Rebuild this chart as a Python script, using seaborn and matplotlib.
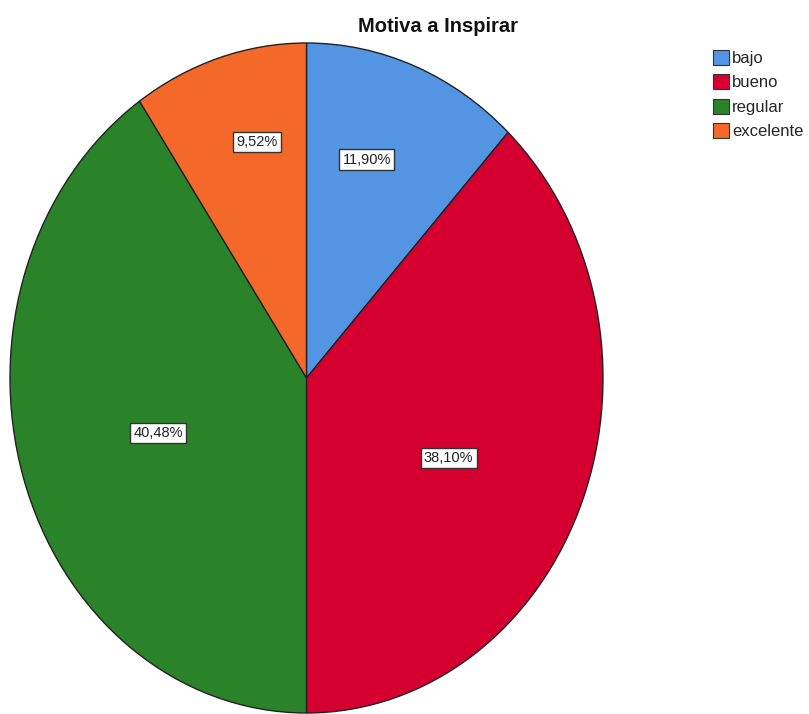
import matplotlib
matplotlib.use("Agg")
import matplotlib.pyplot as plt
import seaborn as sns
import numpy as np

categories = ["bajo", "bueno", "regular", "excelente"]
percentages = [11.90, 38.10, 40.48, 9.52]
colors = ["#5394E3", "#D5002F", "#2A8229", "#F4692A"]
title = "Motiva a Inspirar"

sns.set_theme(style="white")
plt.rcParams["font.family"] = ["Liberation Sans", "DejaVu Sans"]

fig = plt.figure(figsize=(8.09, 7.14), dpi=100)
ax = fig.add_axes([10 / 809, 1 / 714, 593 / 809, 670 / 714])

wedges, _ = ax.pie(percentages, colors=colors, startangle=90, counterclock=False,
                   radius=1.0, wedgeprops=dict(edgecolor="#222222", linewidth=1.0))
ax.set_aspect("auto")
ax.set_xlim(-1, 1)
ax.set_ylim(-1, 1)
ax.axis("off")

# label placement (style): radius and angular shift per wedge
label_r = [0.683, 0.536, 0.526, 0.724]
label_shift = [4.1, -5.1, 1.1, -3.8]
for w, p, r, s in zip(wedges, percentages, label_r, label_shift):
    mid = np.deg2rad((w.theta1 + w.theta2) / 2 + s)
    ax.text(r * np.cos(mid), r * np.sin(mid), f"{p:.2f}%".replace(".", ","),
            ha="center", va="center", fontsize=10.5, color="#222222",
            bbox=dict(boxstyle="square,pad=0.22", facecolor="white",
                      edgecolor="#333333", linewidth=1.0))

fig.text(438 / 809, 1 - 26 / 714, title, ha="center", va="center",
         fontsize=14.5, fontweight="bold", color="#111111")

handles = [plt.Rectangle((0, 0), 1, 1, facecolor=c, edgecolor="#333333", linewidth=0.8)
           for c in colors]
fig.legend(handles, categories, loc="upper left", bbox_to_anchor=(706 / 809, 1 - 43 / 714),
           frameon=False, fontsize=12, handlelength=0.95, handleheight=1.0,
           handletextpad=0.2, labelspacing=0.5, borderaxespad=0)

fig.savefig("out.png", dpi=100)
